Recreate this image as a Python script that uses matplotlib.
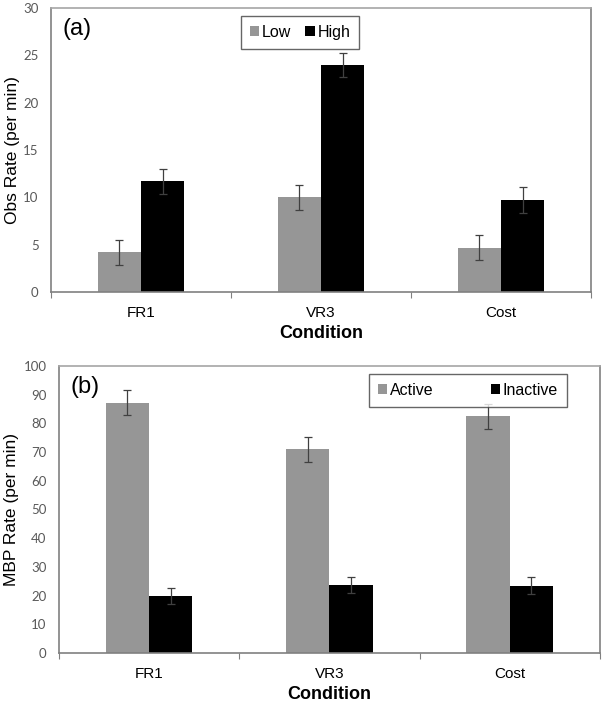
import matplotlib.pyplot as plt
import numpy as np

# 数据
conditions = ["FR1", "VR3", "Cost"]

obs_low = [4.2, 10.0, 4.7]
obs_low_err = [1.3, 1.35, 1.3]
obs_high = [11.7, 24.0, 9.7]
obs_high_err = [1.3, 1.3, 1.35]

mbp_active = [87.2, 70.9, 82.5]
mbp_active_err = [4.3, 4.2, 4.3]
mbp_inactive = [19.8, 23.8, 23.5]
mbp_inactive_err = [2.9, 2.8, 2.9]

GRAY = "#969696"
BLACK = "#000000"
SPINE = "#808080"
TICK_GRAY = "#595959"

plt.rcParams["font.family"] = ["Liberation Sans", "DejaVu Sans"]


def draw_panel(ax, a_vals, a_err, b_vals, b_err, names, ymax, ystep, ylabel, tag,
               leg_anchor, colspace, ylab_x):
    x = np.arange(len(conditions))
    w = 0.24
    ekw = dict(ecolor="#404040", elinewidth=0.9, capsize=3, capthick=0.9)
    ax.bar(x - w / 2, a_vals, w, yerr=a_err, color=GRAY, label=names[0], error_kw=ekw)
    ax.bar(x + w / 2, b_vals, w, yerr=b_err, color=BLACK, label=names[1], error_kw=ekw)

    ax.set_xlim(-0.5, len(conditions) - 0.5)
    ax.set_ylim(0, ymax)
    ax.set_yticks(np.arange(0, ymax + 1, ystep))

    # 分类边界处画刻度，标签放在中间
    ax.set_xticks(np.arange(-0.5, len(conditions), 1.0))
    ax.set_xticklabels([])
    ax.set_xticks(x, minor=True)
    ax.set_xticklabels(conditions, minor=True, fontsize=11)
    ax.tick_params(axis="x", which="major", length=4, color=SPINE, direction="out")
    ax.tick_params(axis="x", which="minor", length=0, pad=10)
    ax.tick_params(axis="y", length=0, pad=9, labelcolor=TICK_GRAY, labelsize=9.5)
    for lab in ax.get_yticklabels():
        lab.set_family(["Lato", "DejaVu Sans"])

    for s in ax.spines.values():
        s.set_color(SPINE)
        s.set_linewidth(1.2)
    ax.spines["top"].set_color("#a6a6a6")

    ax.set_xlabel("Condition", fontsize=13, fontweight="bold")
    ax.xaxis.set_label_coords(0.5, -0.145)
    ax.xaxis.label.set_va("center")
    ax.set_ylabel(ylabel, fontsize=12.5)
    ax.yaxis.set_label_coords(ylab_x, 0.5)
    ax.yaxis.label.set_va("center")

    ax.text(0.022, 0.925, tag, transform=ax.transAxes, fontsize=17, va="center")

    leg = ax.legend(loc="upper left", bbox_to_anchor=leg_anchor, ncol=2,
                    fontsize=11.5, handlelength=0.6, handleheight=0.6,
                    handletextpad=0.15, columnspacing=colspace, frameon=True,
                    fancybox=False, borderpad=0.55, borderaxespad=0)
    leg.get_frame().set_edgecolor("#404040")
    leg.get_frame().set_linewidth(1.0)


fig = plt.figure(figsize=(6.05, 7.05), dpi=100)
ax_a = fig.add_axes([0.0843, 0.5858, 0.8926, 0.4028])
ax_b = fig.add_axes([0.0975, 0.0738, 0.8940, 0.4071])

draw_panel(ax_a, obs_low, obs_low_err, obs_high, obs_high_err, ["Low", "High"],
           30, 5, "Obs Rate (per min)", "(a)", (0.352, 0.972), 0.9, -0.072)
draw_panel(ax_b, mbp_active, mbp_active_err, mbp_inactive, mbp_inactive_err,
           ["Active", "Inactive"], 100, 10, "MBP Rate (per min)", "(b)",
           (0.573, 0.972), 3.6, -0.087)

fig.savefig("out.png", dpi=100)
